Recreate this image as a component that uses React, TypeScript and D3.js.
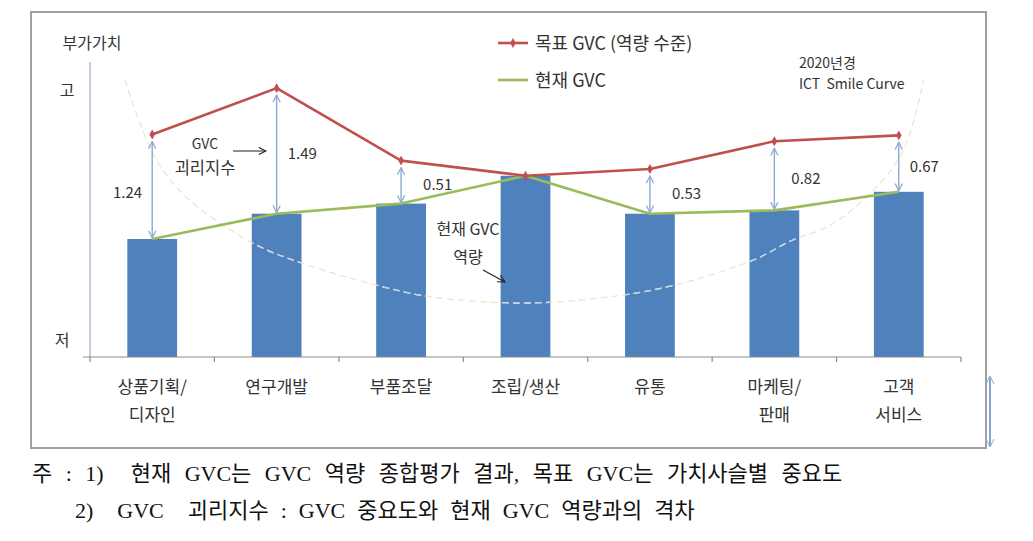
import * as d3 from "d3";

// categories (value chain stages) - two-line labels
const categories = ["상품기획/디자인", "연구개발", "부품조달", "조립/생산", "유통", "마케팅/판매", "고객서비스"];
const labelLines = [["상품기획/", "디자인"], ["연구개발"], ["부품조달"], ["조립/생산"], ["유통"], ["마케팅/", "판매"], ["고객", "서비스"]];

// 현재 GVC (bars + green line) and 목표 GVC (red line)
const currentGVC = [2.9, 3.2, 3.32, 3.65, 3.2, 3.24, 3.46];
const targetGVC = [4.14, 4.69, 3.83, 3.65, 3.73, 4.06, 4.13];
// GVC 괴리지수 labels (null = no arrow)
const gapLabels = ["1.24", "1.49", "0.51", null, "0.53", "0.82", "0.67"];

// ICT smile curve, in (category index, value) space
const smileIdx = [-0.22, -0.1, 0.05, 0.3, 0.81, 1.19, 1.86, 2.26, 2.96, 3.6, 4.19, 4.83, 5.15, 5.42, 5.69, 6.02, 6.2];
const smileVal = [4.79, 4.28, 3.8, 3.36, 2.85, 2.62, 2.33, 2.21, 2.14, 2.2, 2.35, 2.65, 2.89, 3.04, 3.33, 3.9, 4.79];

const legendItems = ["목표 GVC (역량 수준)", "현재 GVC"];
const footnotes = [
  "주 : 1)  현재 GVC는 GVC 역량 종합평가 결과, 목표 GVC는 가치사슬별 중요도",
  "2)  GVC  괴리지수 : GVC 중요도와 현재 GVC 역량과의 격차",
];

const W = 1033;
const H = 541;
const plotLeft = 90;
const plotRight = 961;
const plotTop = 62;
const plotBottom = 357;

const sans = "'Noto Sans CJK KR', 'Noto Sans', sans-serif";
const serif = "'Liberation Serif', 'Noto Sans CJK KR', serif";

const RED = "#c0504d";
const GREEN = "#9bbb59";
const BLUE = "#4f81bd";
const ARROW = "#8eaad4";
const TEXT = "#333333";

export default function App() {
  const x = d3.scaleBand<string>().domain(categories).range([plotLeft, plotRight]).paddingInner(0.6).paddingOuter(0.3);
  const y = d3.scaleLinear().domain([1.5, 5]).range([plotBottom, plotTop]);
  const bw = x.bandwidth();
  const cx = (i: number) => (x(categories[i]) as number) + bw / 2;
  const xi = d3.scaleLinear().domain([0, categories.length - 1]).range([cx(0), cx(categories.length - 1)]);

  const lineGen = d3
    .line<number>()
    .x((_, i) => cx(i))
    .y((d) => y(d));

  const smile = d3
    .line<number>()
    .x((d) => xi(d))
    .y((_, i) => y(smileVal[i]))
    .curve(d3.curveCatmullRom.alpha(0.5))(smileIdx) as string;

  const diamond = d3.symbol().type(d3.symbolDiamond).size(28)() as string;

  // category boundaries for tick marks
  const step = x.step();
  const ticks = d3.range(categories.length + 1).map((i) => cx(0) - step / 2 + i * step);

  return (
    <svg width={W} height={H} style={{ position: "absolute", left: 0, top: 0, background: "#fff" }}>
      <defs>
        <marker id="gapHead" viewBox="0 0 10 10" refX="9" refY="5" markerWidth="9" markerHeight="9" orient="auto-start-reverse" markerUnits="userSpaceOnUse">
          <path d="M1,1 L9,5 L1,9" fill="none" stroke={ARROW} strokeWidth="1.4" />
        </marker>
        <marker id="blkHead" viewBox="0 0 10 10" refX="9" refY="5" markerWidth="9" markerHeight="9" orient="auto" markerUnits="userSpaceOnUse">
          <path d="M1,1 L9,5 L1,9" fill="none" stroke="#222" strokeWidth="1.2" />
        </marker>
        <clipPath id="barClip">
          {currentGVC.map((v, i) => (
            <rect key={i} x={x(categories[i])} y={y(v)} width={bw} height={plotBottom - y(v)} />
          ))}
        </clipPath>
      </defs>

      {/* frame */}
      <rect x={31} y={12} width={955} height={436} fill="none" stroke="#a0a0a0" strokeWidth={2} />

      {/* y axis */}
      <line x1={plotLeft} x2={plotLeft} y1={plotTop} y2={plotBottom} stroke="#9fb1cc" strokeWidth={1.2} />
      <text x={92} y={49} fontFamily={sans} fontSize={16} fill={TEXT} textAnchor="middle">부가가치</text>
      <text x={67} y={96} fontFamily={sans} fontSize={16} fill={TEXT} textAnchor="middle">고</text>
      <text x={62} y={346} fontFamily={sans} fontSize={16} fill={TEXT} textAnchor="middle">저</text>

      {/* bars */}
      {currentGVC.map((v, i) => (
        <rect key={i} x={x(categories[i])} y={y(v)} width={bw} height={plotBottom - y(v)} fill={BLUE} />
      ))}

      {/* smile curve */}
      <path d={smile} fill="none" stroke="#f6e1cb" strokeWidth={1.3} strokeDasharray="7,4" />
      <path d={smile} fill="none" stroke="#c3d3ea" strokeWidth={1.3} strokeDasharray="7,4" clipPath="url(#barClip)" />

      {/* x axis */}
      <line x1={83} x2={plotRight} y1={plotBottom} y2={plotBottom} stroke="#8c8c8c" strokeWidth={1.2} />
      {ticks.map((t, i) => (
        <line key={i} x1={t} x2={t} y1={plotBottom} y2={plotBottom + 5} stroke="#8c8c8c" strokeWidth={1.2} />
      ))}
      {labelLines.map((lines, i) =>
        lines.map((s, j) => (
          <text key={`${i}-${j}`} x={cx(i)} y={393 + j * 28} fontFamily={sans} fontSize={17} fill={TEXT} textAnchor="middle">
            {s}
          </text>
        ))
      )}

      {/* lines */}
      <path d={lineGen(currentGVC) as string} fill="none" stroke={GREEN} strokeWidth={2.6} strokeLinejoin="round" />
      <path d={lineGen(targetGVC) as string} fill="none" stroke={RED} strokeWidth={2.6} strokeLinejoin="round" />
      {targetGVC.map((v, i) => (
        <path key={i} d={diamond} transform={`translate(${cx(i)},${y(v)})`} fill={RED} />
      ))}

      {/* gap arrows + labels */}
      {gapLabels.map((g, i) => {
        if (!g) return null;
        const top = y(targetGVC[i]) + 7;
        const bot = y(currentGVC[i]) - 1;
        const left = i === 0;
        const offs = [0, 11, 22, 0, 22, 17, 11];
        return (
          <g key={i}>
            <line x1={cx(i)} x2={cx(i)} y1={top} y2={bot} stroke={ARROW} strokeWidth={1.4} markerStart="url(#gapHead)" markerEnd="url(#gapHead)" />
            <text
              x={left ? cx(i) - 10 : cx(i) + offs[i]}
              y={i === 0 ? 198 : (top + bot) / 2 + 5}
              fontFamily={sans}
              fontSize={15}
              fill={TEXT}
              textAnchor={left ? "end" : "start"}
            >
              {g}
            </text>
          </g>
        );
      })}

      {/* 괴리지수 annotation */}
      <text x={205} y={149} fontFamily={sans} fontSize={14} fill={TEXT} textAnchor="middle">GVC</text>
      <text x={205} y={174} fontFamily={sans} fontSize={16.5} fill={TEXT} textAnchor="middle">괴리지수</text>
      <line x1={233} x2={266} y1={151} y2={151} stroke="#222" strokeWidth={1.1} markerEnd="url(#blkHead)" />

      {/* 현재 GVC 역량 annotation */}
      <text x={468} y={235} fontFamily={sans} fontSize={16} fill={TEXT} textAnchor="middle">현재 GVC</text>
      <text x={468} y={263} fontFamily={sans} fontSize={16} fill={TEXT} textAnchor="middle">역량</text>
      <line x1={483} x2={505} y1={270} y2={282} stroke="#222" strokeWidth={1.1} markerEnd="url(#blkHead)" />

      {/* legend */}
      <line x1={498} x2={528} y1={43} y2={43} stroke={RED} strokeWidth={2.6} />
      <path d={diamond} transform="translate(513,43)" fill={RED} />
      <text x={535} y={50} fontFamily={sans} fontSize={18} fill={TEXT}>{legendItems[0]}</text>
      <line x1={498} x2={528} y1={80} y2={80} stroke={GREEN} strokeWidth={2.6} />
      <text x={535} y={87} fontFamily={sans} fontSize={18} fill={TEXT}>{legendItems[1]}</text>

      {/* smile curve caption */}
      <text x={799} y={68} fontFamily={sans} fontSize={14} fill={TEXT}>2020년경</text>
      <text x={799} y={89} fontFamily={sans} fontSize={14} fill={TEXT} xmlSpace="preserve">ICT  Smile Curve</text>

      {/* cut-off arrow at right edge */}
      <line x1={990} x2={990} y1={377} y2={446} stroke={BLUE} strokeWidth={1.4} />
      <path d="M986,384 L990,376 L994,384" fill="none" stroke={ARROW} strokeWidth={1} />
      <path d="M986,439 L990,447 L994,439" fill="none" stroke={ARROW} strokeWidth={1} />

      {/* footnotes */}
      <text x={32} y={481} fontFamily={serif} fontSize={22} fill="#111" wordSpacing={8} xmlSpace="preserve">
        {footnotes[0]}
      </text>
      <text x={75} y={518} fontFamily={serif} fontSize={22} fill="#111" wordSpacing={6.5} xmlSpace="preserve">
        {footnotes[1]}
      </text>
    </svg>
  );
}
